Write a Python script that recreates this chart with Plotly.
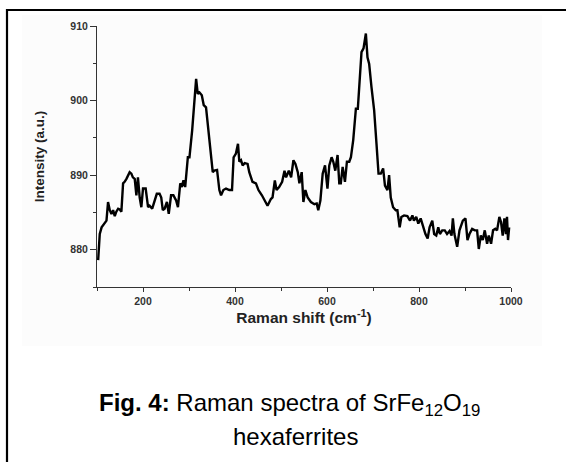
import plotly.graph_objects as go

# Raman shift (cm^-1) and intensity (a.u.)
raman_shift = [102.5, 106, 110, 117, 120.6, 124, 127.8, 131.4, 135, 138.6, 142, 146, 149.5, 153,
               156.7, 160, 164, 171, 174.7, 178, 182, 185.6, 189, 192.8, 196.4, 200, 205.8, 211,
               214.4, 220, 225, 230, 236, 239.7, 243, 247, 252, 256, 261, 266, 272, 276, 281,
               284.5, 288, 291.7, 297.5, 301, 306.9, 312, 315.5, 319, 322.7, 327.8, 332, 337,
               340.8, 345.8, 351.6, 355, 361, 366, 369.7, 374.7, 380.5, 387.7, 393.5, 397, 402,
               406.5, 409.4, 413, 416.6, 421, 427.4, 431, 438, 445.5, 451, 458.5, 463.5, 470.7,
               478, 481.6, 486.6, 490.3, 496, 502.5, 507.6, 511, 517, 522, 527, 531.4, 536.5,
               540, 545, 548.7, 553, 558, 565, 572.6, 577.6, 581, 585.6, 590.6, 595.7, 601, 605,
               610, 613.7, 618, 623, 626.7, 630, 634, 639, 643.3, 648.4, 652, 657, 662.8, 667,
               671, 675, 679.4, 684.5, 688, 691.7, 696.7, 702.5, 707.6, 712, 717, 722, 726,
               731.4, 735, 738.6, 743.7, 749.5, 753, 758, 761.7, 767.5, 774.7, 780.5, 785.6,
               789, 794, 798.5, 803.6, 808.7, 814, 818.8, 823, 828.9, 833, 837.5, 841.9, 845.5,
               850.5, 856, 861, 866.4, 870.8, 873.6, 877, 883, 888, 895.3, 901, 905.4, 909.7,
               915.5, 921.3, 926.3, 930, 934.3, 938.6, 943, 948, 951.7, 956.7, 961, 966, 969.7,
               974.7, 978.3, 982, 985.6, 989, 991.3, 993.5, 996]
intensity = [878.6, 882.1, 883.0, 883.7, 883.9, 886.4, 885.3, 884.8, 885.3, 884.5, 885.1, 885.5,
             885.4, 885.1, 888.9, 889.1, 889.5, 890.4, 890.2, 889.7, 889.5, 887.3, 889.7, 887.0,
             885.7, 888.2, 888.2, 885.7, 885.9, 885.5, 886.6, 887.5, 887.5, 887.0, 885.3, 885.5,
             886.4, 884.8, 887.3, 887.3, 886.6, 885.7, 888.9, 888.4, 889.3, 888.4, 892.4, 892.4,
             896.0, 900.0, 902.9, 900.9, 901.1, 900.7, 899.4, 899.1, 896.9, 894.2, 890.4, 890.6,
             890.7, 888.0, 887.3, 888.0, 888.2, 888.0, 888.0, 892.4, 892.9, 894.2, 891.8, 892.0,
             891.3, 891.6, 891.5, 890.4, 889.1, 888.9, 888.0, 887.3, 886.8, 885.9, 886.8, 887.0,
             889.3, 888.0, 888.4, 889.1, 890.6, 889.7, 890.6, 889.7, 892.0, 891.5, 890.4, 888.9,
             890.4, 886.4, 888.0, 887.0, 886.4, 886.1, 886.2, 885.3, 886.6, 890.2, 891.3, 888.2,
             891.3, 892.4, 891.8, 890.6, 892.7, 888.9, 888.9, 891.1, 889.1, 891.8, 891.8, 892.4,
             894.7, 898.9, 898.9, 902.7, 906.5, 907.0, 909.0, 905.8, 904.9, 901.8, 898.7, 894.2,
             890.2, 890.2, 890.9, 888.6, 888.0, 890.0, 887.0, 885.7, 885.3, 885.3, 883.0, 884.4,
             884.6, 884.5, 883.9, 884.6, 883.9, 884.4, 883.5, 884.2, 883.0, 882.1, 881.5, 883.0,
             883.9, 882.1, 881.9, 883.0, 882.1, 882.6, 882.6, 882.1, 882.5, 881.9, 884.2, 882.1,
             880.4, 882.6, 883.9, 884.2, 881.3, 882.1, 882.8, 882.6, 882.6, 880.1, 881.9, 881.3,
             882.6, 880.8, 881.9, 880.8, 882.6, 882.8, 882.6, 884.4, 883.7, 881.9, 884.2, 882.1,
             884.4, 881.3, 883.0]

x_tick_vals = [200, 400, 600, 800, 1000]
y_tick_vals = [880, 890, 900, 910]

# page geometry (pixels)
FW, FH = 566, 462
L, R, T, B = 97, 55, 26, 175
PW, PH = FW - L - R, FH - T - B


def px(x):
    return (x - L) / PW


def py(y):
    return (FH - B - y) / PH


FONT = "Arial, Liberation Sans, sans-serif"

fig = go.Figure()
fig.add_trace(go.Scatter(x=raman_shift, y=intensity, mode="lines",
                         line=dict(color="black", width=2.4), showlegend=False,
                         hoverinfo="x+y"))

axis_common = dict(showline=True, linecolor="#333", linewidth=1, showgrid=False,
                   zeroline=False, ticks="outside", tickcolor="#333", tickwidth=1,
                   tickfont=dict(family=FONT, size=10.5, color="#333", weight="bold"))

fig.update_xaxes(range=[100, 1000], tickmode="array", tickvals=x_tick_vals, ticklen=4,
                 minor=dict(dtick=100, tick0=0, ticks="outside", ticklen=3, tickcolor="#333"),
                 title=dict(text="Raman shift (cm<sup>-1</sup>)", standoff=5,
                            font=dict(family=FONT, size=15.5, color="#222", weight="bold")),
                 **axis_common)
fig.update_yaxes(range=[875, 910], tickmode="array", tickvals=y_tick_vals, ticklen=6,
                 minor=dict(dtick=5, tick0=875, ticks="outside", ticklen=3, tickcolor="#333"),
                 title=dict(text="Intensity (a.u.)", standoff=22,
                            font=dict(family=FONT, size=13.5, color="#222", weight="bold")),
                 **axis_common)

shapes = [
    # faint grey panel behind the chart
    dict(type="rect", xref="paper", yref="paper", x0=px(22), x1=px(542), y0=py(346), y1=py(15),
         fillcolor="#fcfcfc", line=dict(width=0), layer="below"),
    # outer frame (left and top edges)
    dict(type="line", xref="paper", yref="paper", x0=px(7), x1=px(7), y0=py(9), y1=py(462),
         line=dict(color="black", width=2.2)),
    dict(type="line", xref="paper", yref="paper", x0=px(6), x1=px(566), y0=py(10), y1=py(10),
         line=dict(color="black", width=2.2)),
]

annotations = [
    dict(text="<b>Fig. 4:</b> Raman spectra of SrFe<sub>12</sub>O<sub>19</sub>",
         xref="paper", yref="paper", x=px(289), y=py(404), xanchor="center", yanchor="middle",
         showarrow=False, font=dict(family=FONT, size=24, color="black")),
    dict(text="hexaferrites", xref="paper", yref="paper", x=px(295), y=py(436),
         xanchor="center", yanchor="middle", showarrow=False,
         font=dict(family=FONT, size=24, color="black")),
]

fig.update_layout(width=FW, height=FH, margin=dict(l=L, r=R, t=T, b=B, autoexpand=False),
                  paper_bgcolor="white", plot_bgcolor="rgba(0,0,0,0)",
                  shapes=shapes, annotations=annotations, showlegend=False)

fig.write_html("out.html")
